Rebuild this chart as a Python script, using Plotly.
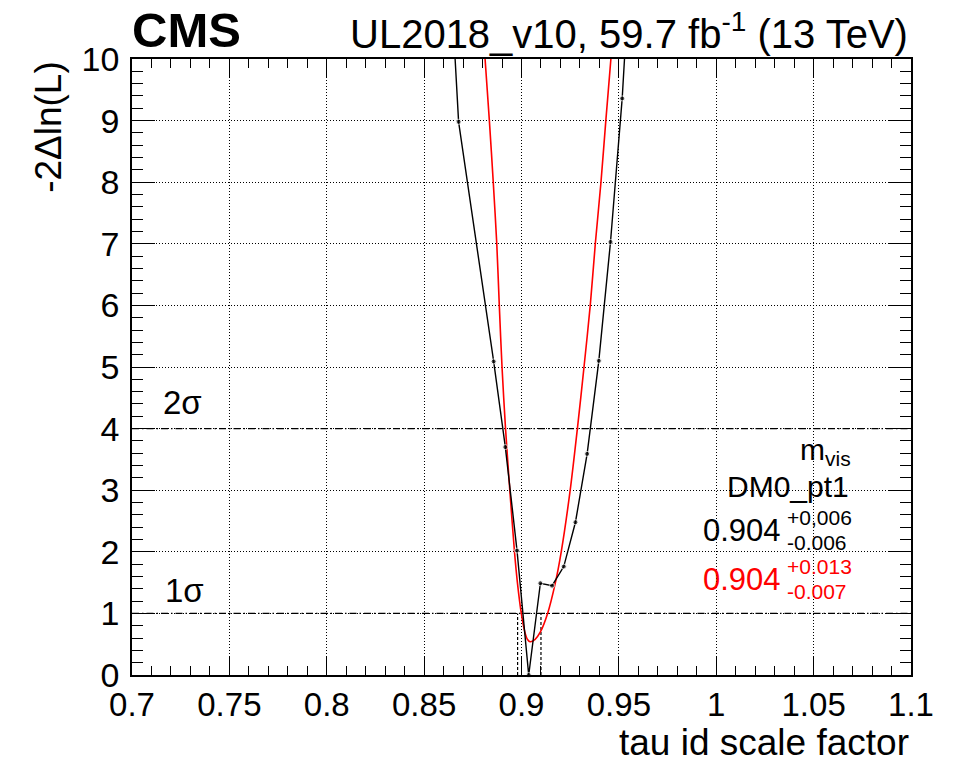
import plotly.graph_objects as go

# ---- data ----
black_x = [0.8617, 0.8677, 0.8857, 0.8917, 0.8977, 0.9037, 0.9097, 0.9157,
           0.9217, 0.9277, 0.9337, 0.9397, 0.9457, 0.9517, 0.9577]
black_y = [12.4, 8.98, 5.09, 3.70, 2.02, 0.0, 1.49, 1.45,
           1.76, 2.48, 3.59, 5.10, 7.03, 9.36, 12.6]

red_x = [0.8797, 0.8813, 0.8835, 0.8855, 0.8873, 0.8886, 0.8900, 0.8918, 0.8940,
         0.8964, 0.8979, 0.8999, 0.9017, 0.9030, 0.9044, 0.9070, 0.9097, 0.9134,
         0.9174, 0.9204, 0.9250, 0.9287, 0.9321, 0.9353, 0.9379, 0.9408, 0.9433,
         0.9459, 0.9478]
red_y = [10.8, 10.0, 9.0, 8.0, 7.0, 6.0, 5.0, 4.0, 3.0,
         2.0, 1.5, 1.0, 0.7, 0.58, 0.54, 0.58, 0.7, 1.0,
         1.5, 2.0, 3.0, 4.0, 5.0, 6.0, 7.0, 8.0, 9.0,
         10.0, 10.8]

sigma_levels = [1, 4]

black_best, black_up, black_dn = 0.904, 0.006, 0.006
red_best, red_up, red_dn = 0.904, 0.013, 0.007
black_up_txt, black_dn_txt = "+0,006", "-0.006"
red_up_txt, red_dn_txt = "+0.013", "-0.007"

X_RANGE = [0.7, 1.1]
Y_RANGE = [0, 10]

FONT = "Liberation Sans, Arial, sans-serif"

fig = go.Figure()

# sigma lines
for lvl in sigma_levels:
    fig.add_trace(go.Scatter(x=X_RANGE, y=[lvl, lvl], mode="lines",
                             line=dict(color="black", width=1.2, dash="7px,3px,1.5px,3px"),
                             showlegend=False, hoverinfo="skip"))

# 1 sigma interval vertical lines (black)
for xv in [black_best - black_dn, black_best + black_up]:
    fig.add_trace(go.Scatter(x=[xv, xv], y=[0, 1], mode="lines",
                             line=dict(color="black", width=1.2, dash="3px,2px"),
                             showlegend=False, hoverinfo="skip"))

# red fit curve
fig.add_trace(go.Scatter(x=red_x, y=red_y, mode="lines",
                         line=dict(color="#ff0000", width=1.6, shape="spline", smoothing=0.8),
                         showlegend=False))

# black scan
fig.add_trace(go.Scatter(x=black_x, y=black_y, mode="lines+markers",
                         line=dict(color="black", width=1.4),
                         marker=dict(color="black", size=[5 if v <= Y_RANGE[1] else 0 for v in black_y]),
                         cliponaxis=False, showlegend=False))

def px2x(px):
    return X_RANGE[0] + (px - 132) / 779 * (X_RANGE[1] - X_RANGE[0])

def py2y(py):
    return (675.3 - py) / 616 * (Y_RANGE[1] - Y_RANGE[0])

ann = []
# sigma labels
ann.append(dict(x=px2x(161), y=py2y(403), text="2σ", xanchor="left", yanchor="middle",
                showarrow=False, font=dict(size=33, color="black", family=FONT)))
ann.append(dict(x=px2x(163), y=py2y(591), text="1σ", xanchor="left", yanchor="middle",
                showarrow=False, font=dict(size=33, color="black", family=FONT)))

# legend-like text
ann.append(dict(x=px2x(853), y=py2y(452), text="m<sub>vis</sub>", xanchor="right", yanchor="middle",
                showarrow=False, font=dict(size=30, color="black", family=FONT)))
ann.append(dict(x=px2x(851), y=py2y(487), text="DM0_pt1", xanchor="right", yanchor="middle",
                showarrow=False, font=dict(size=30, color="black", family=FONT)))

for best, up, dn, cy, col in [(black_best, black_up_txt, black_dn_txt, 531, "black"),
                             (red_best, red_up_txt, red_dn_txt, 580, "#ff0000")]:
    ann.append(dict(x=px2x(783), y=py2y(cy), text=f"{best:.3f}", xanchor="right", yanchor="middle",
                    showarrow=False, font=dict(size=31, color=col, family=FONT)))
    ann.append(dict(x=px2x(785), y=py2y(cy - 13), text=up, xanchor="left", yanchor="middle",
                    showarrow=False, font=dict(size=21, color=col, family=FONT)))
    ann.append(dict(x=px2x(785), y=py2y(cy + 12), text=dn, xanchor="left", yanchor="middle",
                    showarrow=False, font=dict(size=21, color=col, family=FONT)))

# titles
ann.append(dict(xref="paper", yref="paper", x=-0.002, y=1.047, text="<b>CMS</b>",
                xanchor="left", yanchor="middle", showarrow=False,
                font=dict(size=49, color="black", family=FONT)))
ann.append(dict(xref="paper", yref="paper", x=0.999, y=1.045,
                text="UL2018_v10, 59.7 fb<sup>-1</sup> (13 TeV)",
                xanchor="right", yanchor="middle", showarrow=False,
                font=dict(size=40, color="black", family=FONT)))
ann.append(dict(xref="paper", yref="paper", x=1.0, y=-0.109, text="tau id scale factor",
                xanchor="right", yanchor="middle", showarrow=False,
                font=dict(size=37, color="black", family=FONT)))
ann.append(dict(xref="paper", yref="paper", x=-0.108, y=1.0, text="-2Δln(L)",
                textangle=-90, xanchor="center", yanchor="top", showarrow=False,
                font=dict(size=37, color="black", family=FONT)))

fig.update_layout(
    width=962, height=765, autosize=False,
    margin=dict(l=132, r=51, t=59, b=90, pad=0),
    paper_bgcolor="white", plot_bgcolor="white",
    font=dict(family=FONT, color="black"),
    annotations=ann,
    showlegend=False,
)

fig.update_xaxes(range=X_RANGE, tick0=0.7, dtick=0.05, ticks="inside", ticklen=18,
                 tickwidth=1.2, tickcolor="black", showline=True, linecolor="black",
                 linewidth=1.5, mirror="allticks", showgrid=True, gridcolor="black",
                 gridwidth=1, griddash="1px,2px", zeroline=False,
                 tickfont=dict(size=33, family=FONT, color="black"), ticklabelstandoff=0,
                 minor=dict(dtick=0.01, ticks="inside", ticklen=9, tickcolor="black",
                            tickwidth=1.2, showgrid=False))
fig.update_yaxes(range=Y_RANGE, tick0=0, dtick=1, ticks="inside", ticklen=23,
                 tickwidth=1.2, tickcolor="black", showline=True, linecolor="black",
                 linewidth=1.5, mirror="allticks", showgrid=True, gridcolor="black",
                 gridwidth=1, griddash="1px,2px", zeroline=False,
                 tickfont=dict(size=34, family=FONT, color="black"), ticklabelstandoff=4,
                 minor=dict(dtick=0.2, ticks="inside", ticklen=11, tickcolor="black",
                            tickwidth=1.2, showgrid=False))

fig.write_html("out.html")
